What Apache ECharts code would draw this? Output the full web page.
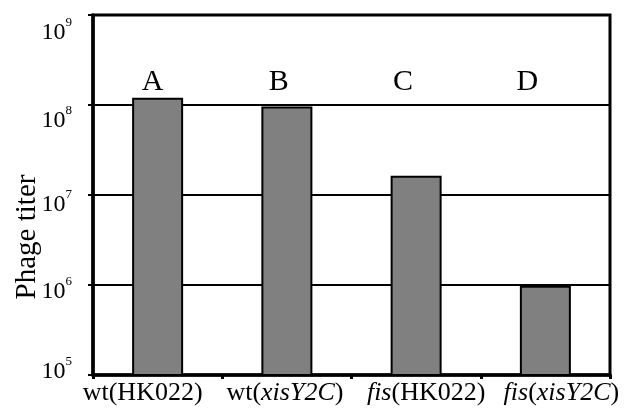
<!DOCTYPE html>
<html><head><meta charset="utf-8">
<script src="https://cdn.jsdelivr.net/npm/echarts@6/dist/echarts.min.js"></script>
<style>html,body{margin:0;padding:0;background:#fff}#c{width:628px;height:408px}</style>
</head><body><div id="c"></div>
<script>
// ---- data ----
const categories = ['wt(HK022)', 'wt(xisY2C)', 'fis(HK022)', 'fis(xisY2C)'];
const panelLetters = ['A', 'B', 'C', 'D'];
const phageTiter = [1.2e8, 9.6e7, 1.64e7, 9.8e5];
const yTickExponents = [5, 6, 7, 8, 9];

// ---- styling (label nudges, px) ----
const serif = '"Liberation Serif", "DejaVu Serif", serif';
const yLabelShift = {9: 18, 8: 16, 7: 10, 6: 7, 5: -3};
const catLabelShift = [-15, -2, 10, 16];
const letterShift = [-5, -8, -13, -18];

function vpad(off) { return off >= 0 ? [2 * off, 0, 0, 0] : [0, 0, -2 * off, 0]; }
const yRich = {};
yTickExponents.forEach(e => {
  yRich['b' + e] = {fontFamily: serif, fontSize: 24, color: '#000', padding: vpad(yLabelShift[e])};
  yRich['s' + e] = {fontFamily: serif, fontSize: 13, color: '#000', padding: vpad(yLabelShift[e] - 10)};
});

const italicParts = /^(fis|xisY2C)$/;
const xRich = {};
categories.forEach((c, idx) => {
  const parts = c.split(/(fis|xisY2C)/).filter(Boolean);
  parts.forEach((p, k) => {
    const st = {fontFamily: serif, fontSize: 26, color: '#000'};
    if (italicParts.test(p)) st.fontStyle = 'italic';
    const dx = catLabelShift[idx];
    const pd = [0, 0, 0, 0];
    if (k === 0 && dx > 0) pd[3] = 2 * dx;
    if (k === parts.length - 1 && dx < 0) pd[1] = -2 * dx;
    st.padding = pd;
    xRich['c' + idx + '_' + k] = st;
  });
});
function fmtCat(s, idx) {
  return s.split(/(fis|xisY2C)/).filter(Boolean)
    .map((p, k) => '{c' + idx + '_' + k + '|' + p + '}').join('');
}
const letterRich = {};
panelLetters.forEach((l, idx) => {
  const dx = letterShift[idx];
  letterRich['L' + idx] = {fontFamily: serif, fontSize: 30, color: '#000',
    padding: dx < 0 ? [0, -2 * dx, 0, 0] : [0, 0, 0, 2 * dx]};
});

const chart = echarts.init(document.getElementById('c'), null, {renderer: 'canvas'});
chart.setOption({
  animation: false,
  backgroundColor: '#fff',
  grid: {left: 93, right: 18, top: 15, bottom: 33, containLabel: false, outerBoundsMode: 'none',
         show: true, borderColor: '#000', borderWidth: 3, backgroundColor: 'transparent'},
  xAxis: [{
    type: 'category',
    data: categories,
    position: 'bottom',
    axisLine: {lineStyle: {color: '#000', width: 3.5}},
    axisTick: {show: true, length: 4, lineStyle: {color: '#000', width: 3}},
    axisLabel: {interval: 0, margin: 5, formatter: fmtCat, rich: xRich}
  }, {
    type: 'category',
    data: panelLetters,
    position: 'top',
    axisLine: {show: false},
    axisTick: {show: false},
    axisLabel: {interval: 0, inside: true, margin: 52,
      formatter: (v, idx) => '{L' + idx + '|' + v + '}', rich: letterRich}
  }],
  yAxis: {
    type: 'log',
    logBase: 10,
    min: Math.pow(10, yTickExponents[0]),
    max: Math.pow(10, yTickExponents[yTickExponents.length - 1]),
    name: 'Phage titer',
    nameLocation: 'middle',
    nameGap: 51,
    nameMoveOverlap: false,
    nameTextStyle: {fontFamily: serif, fontSize: 29, color: '#000', padding: [0, 84, 0, 0]},
    axisLine: {show: true, lineStyle: {color: '#000', width: 3.5}},
    axisTick: {show: true, length: 5, lineStyle: {color: '#000', width: 2}},
    splitLine: {show: true, lineStyle: {color: '#000', width: 2}},
    axisLabel: {
      margin: 21,
      formatter: v => { const e = Math.round(Math.log10(v)); return '{b' + e + '|10}{s' + e + '|' + e + '}'; },
      rich: yRich
    }
  },
  series: [{
    type: 'bar',
    xAxisIndex: 0,
    data: phageTiter,
    barWidth: 51,
    itemStyle: {color: '#808080', borderColor: '#000', borderWidth: 2}
  }]
});
</script></body></html>
